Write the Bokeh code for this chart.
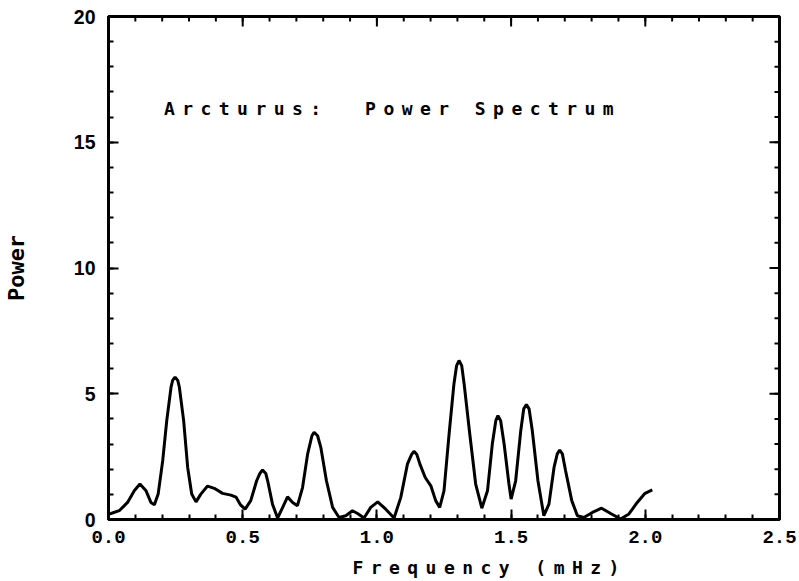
import math
from bokeh.plotting import figure
from bokeh.layouts import column
from bokeh.models import Range1d, Label, FixedTicker, NumeralTickFormatter
from bokeh.embed import file_html
from bokeh.resources import INLINE

# ---- data ----
freq = [0.000, 0.009, 0.040, 0.071, 0.096, 0.117, 0.140, 0.158, 0.171, 0.185,
        0.202, 0.217, 0.233, 0.239, 0.248, 0.258, 0.264, 0.280, 0.295, 0.310,
        0.326, 0.344, 0.369, 0.394, 0.425, 0.456, 0.475, 0.492, 0.509, 0.530,
        0.552, 0.564, 0.574, 0.586, 0.593, 0.611, 0.630, 0.649, 0.667, 0.686,
        0.704, 0.723, 0.742, 0.758, 0.766, 0.779, 0.791, 0.812, 0.835, 0.859,
        0.884, 0.909, 0.928, 0.952, 0.977, 1.003, 1.033, 1.064, 1.089, 1.114,
        1.129, 1.138, 1.149, 1.160, 1.180, 1.201, 1.219, 1.234, 1.250, 1.269,
        1.287, 1.297, 1.306, 1.316, 1.325, 1.346, 1.368, 1.391, 1.412, 1.430,
        1.443, 1.451, 1.461, 1.474, 1.492, 1.500, 1.517, 1.536, 1.547, 1.557,
        1.567, 1.579, 1.600, 1.622, 1.641, 1.660, 1.672, 1.681, 1.691, 1.703,
        1.726, 1.747, 1.771, 1.803, 1.837, 1.871, 1.908, 1.939, 1.970, 1.999,
        2.026]
power = [0.22, 0.24, 0.35, 0.68, 1.14, 1.41, 1.14, 0.68, 0.59, 1.01,
         2.34, 3.93, 5.26, 5.53, 5.66, 5.53, 5.26, 3.93, 2.07, 1.01,
         0.70, 1.01, 1.33, 1.24, 1.04, 0.97, 0.89, 0.58, 0.41, 0.75,
         1.54, 1.83, 1.97, 1.83, 1.54, 0.61, 0.06, 0.48, 0.90, 0.68,
         0.55, 1.27, 2.61, 3.33, 3.47, 3.33, 2.87, 1.54, 0.48, 0.08,
         0.15, 0.35, 0.24, 0.06, 0.48, 0.70, 0.41, 0.06, 0.88, 2.21,
         2.58, 2.71, 2.58, 2.21, 1.67, 1.34, 0.75, 0.48, 1.14, 3.40,
         5.39, 6.12, 6.32, 6.12, 5.39, 3.40, 1.41, 0.45, 1.14, 3.00,
         3.93, 4.13, 3.93, 3.00, 1.41, 0.81, 1.54, 3.53, 4.40, 4.57,
         4.40, 3.53, 1.54, 0.15, 0.61, 2.07, 2.61, 2.76, 2.61, 1.94,
         0.75, 0.15, 0.08, 0.28, 0.45, 0.24, 0.02, 0.22, 0.68, 1.04,
         1.18]

x_min, x_max = 0.0, 2.5
y_min, y_max = 0.0, 20.0
x_major_ticks = [0.0, 0.5, 1.0, 1.5, 2.0, 2.5]
x_minor_ticks = [round(0.1 * i, 1) for i in range(26)]
y_major_ticks = [0, 5, 10, 15, 20]
y_minor_ticks = list(range(21))
# two spaces after the colon (the second one non-collapsing)
title_text = "Arcturus: \u00a0Power Spectrum"
x_label = "Frequency (mHz)"
y_label = "Power"

SPACED = "DejaVu Sans Mono"
XTICK = "Liberation Mono"
YTICK = "Liberation Sans"
W, H = 799, 581
BORDER_L, BORDER_R = 108, 20

# ---------------- main chart ----------------
x_range = Range1d(x_min, x_max)
p = figure(width=W, height=H, output_backend="svg", toolbar_location=None,
           x_range=x_range, y_range=Range1d(y_min, y_max),
           min_border_left=BORDER_L, min_border_right=BORDER_R, min_border_top=16,
           min_border_bottom=62)
p.background_fill_color = "white"
p.border_fill_color = "white"
p.outline_line_color = "black"
p.outline_line_width = 3
p.grid.visible = False

xt = FixedTicker(ticks=x_major_ticks, minor_ticks=x_minor_ticks)
yt = FixedTicker(ticks=y_major_ticks, minor_ticks=y_minor_ticks)


def style_axis(ax, ticker):
    ax.ticker = ticker
    ax.axis_line_width = 3
    ax.axis_line_color = "black"
    ax.major_tick_line_width = 2
    ax.minor_tick_line_width = 2
    ax.major_tick_in = 10
    ax.major_tick_out = 0
    ax.minor_tick_in = 5
    ax.minor_tick_out = 0


xa = p.xaxis[0]
style_axis(xa, xt)
xa.formatter = NumeralTickFormatter(format="0.0")
xa.major_label_text_font = XTICK
xa.major_label_text_font_style = "bold"
xa.major_label_text_font_size = "19px"
xa.major_label_text_color = "black"
xa.major_label_standoff = 11

ya = p.yaxis[0]
style_axis(ya, yt)
ya.major_label_text_font = YTICK
ya.major_label_text_font_style = "bold"
ya.major_label_text_font_size = "19.5px"
ya.major_label_text_color = "black"
ya.major_label_standoff = 13
ya.axis_label = y_label
ya.axis_label_text_font = SPACED
ya.axis_label_text_font_style = "bold"
ya.axis_label_text_font_size = "22px"
ya.axis_label_text_color = "black"
ya.axis_label_standoff = 42

# inward ticks on the top and right edges of the box (clipped to the frame)
p.scatter(x_major_ticks, [y_max] * len(x_major_ticks), marker="dash", size=20,
          angle=math.pi / 2, line_color="black", line_width=2)
p.scatter(x_minor_ticks, [y_max] * len(x_minor_ticks), marker="dash", size=10,
          angle=math.pi / 2, line_color="black", line_width=2)
p.scatter([x_max] * len(y_major_ticks), y_major_ticks, marker="dash", size=20,
          line_color="black", line_width=2)
p.scatter([x_max] * len(y_minor_ticks), y_minor_ticks, marker="dash", size=10,
          line_color="black", line_width=2)

p.line(freq, power, line_color="black", line_width=3)

# ------------- letter-spaced texts, overlaid on the chart -------------
# shares the chart's x range (same frame borders); y in pixels from the top
p2 = figure(width=W, height=H, output_backend="svg", toolbar_location=None,
            x_range=x_range, y_range=Range1d(H, 0),
            x_axis_location=None, y_axis_location=None,
            min_border_left=BORDER_L, min_border_right=BORDER_R, min_border_top=0,
            min_border_bottom=0)
p2.background_fill_color = None
p2.border_fill_color = None
p2.outline_line_color = None
p2.grid.visible = False
p2.styles = {"position": "absolute", "top": "0px", "left": "0px",
             "letter-spacing": "7.45px", "white-space": "pre",
             "pointer-events": "none"}

p2.add_layout(Label(x=0.2066, y=107.7, text=title_text, text_font=SPACED,
                    text_font_size="18px", text_font_style="bold",
                    text_color="black", text_baseline="alphabetic",
                    text_align="left"))
p2.add_layout(Label(x=0.909, y=566.7, text=x_label, text_font=SPACED,
                    text_font_size="18px", text_font_style="bold",
                    text_color="black", text_baseline="alphabetic",
                    text_align="left"))

layout = column(p, p2)
open("out.html", "w").write(file_html(layout, INLINE))
